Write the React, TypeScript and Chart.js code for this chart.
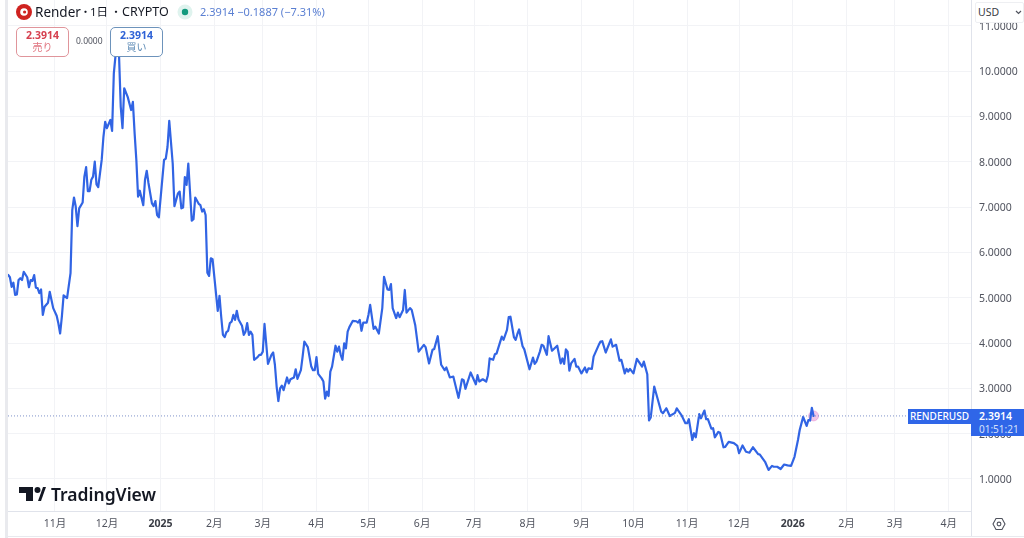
import { useEffect, useRef } from 'react';
import { Chart, registerables } from 'chart.js';

Chart.register(...registerables);

const FONT = '"Noto Sans", "Noto Sans CJK JP", sans-serif';

// days counted from 1 Nov 2024
const days = [
  -27, -26, -25, -24, -23, -22, -21, -20, -19, -18,
  -16, -15, -14, -13, -12, -11, -10, -9, -8, -7,
  -6, -4, -3, -1, 1, 2, 3, 4, 5, 7,
  9, 10, 11, 12, 13, 14, 16, 17, 18, 19,
  20, 21, 22, 23, 24, 25, 27, 28, 29, 30,
  32, 33, 34, 35, 37, 38, 39, 40, 42, 44,
  45, 46, 47, 48, 49, 51, 52, 53, 54, 56,
  57, 58, 59, 60, 63, 64, 65, 66, 68, 69,
  71, 72, 73, 74, 75, 76, 77, 79, 80, 81,
  83, 84, 85, 86, 87, 88, 89, 90, 91, 94,
  95, 96, 97, 98, 99, 100, 101, 102, 103, 104,
  105, 106, 108, 109, 110, 111, 112, 113, 114, 115,
  117, 118, 119, 120, 121, 123, 125, 126, 127, 128,
  129, 130, 131, 132, 134, 135, 136, 138, 139, 140,
  142, 143, 144, 146, 148, 149, 150, 151, 152, 154,
  155, 156, 157, 158, 159, 160, 162, 163, 164, 165,
  166, 167, 168, 169, 170, 172, 174, 175, 176, 177,
  178, 180, 181, 182, 184, 185, 187, 189, 190, 192,
  193, 194, 195, 197, 198, 199, 201, 202, 203, 205,
  206, 208, 210, 213, 214, 216, 218, 219, 221, 223,
  225, 226, 228, 230, 233, 235, 236, 237, 240, 243,
  244, 245, 247, 249, 250, 251, 253, 254, 255, 258,
  259, 261, 262, 263, 265, 266, 267, 268, 270, 271,
  274, 276, 277, 278, 280, 281, 282, 284, 285, 287,
  290, 292, 293, 294, 295, 296, 297, 298, 300, 301,
  302, 304, 306, 307, 308, 310, 311, 314, 315, 316,
  318, 321, 322, 324, 326, 327, 329, 330, 331, 332,
  334, 336, 339, 340, 342, 343, 344, 346, 350, 351,
  353, 355, 358, 359, 362, 364, 365, 366, 368, 369,
  370, 372, 373, 375, 376, 377, 379, 380, 381, 383,
  384, 386, 387, 389, 392, 394, 395, 397, 399, 401,
  403, 406, 407, 410, 412, 414, 415, 417, 419, 421,
  423, 425, 427, 429, 430, 432, 434, 435, 436, 437,
  438,
];

const closes = [
  5.5, 5.45, 5.24, 5.33, 5.06, 5.07, 5.39, 5.43, 5.39, 5.57,
  5.45, 5.23, 5.39, 5.37, 5.5, 5.22, 5.21, 5.1, 5.18, 4.62,
  4.8, 4.89, 5.13, 4.77, 4.6, 4.43, 4.21, 4.58, 5.05, 4.99,
  5.54, 6.93, 7.21, 7.01, 6.58, 6.97, 7.1, 7.67, 7.88, 7.35,
  7.35, 7.6, 7.67, 8.0, 7.5, 7.44, 8.04, 8.55, 8.88, 8.74,
  8.92, 8.68, 9.95, 10.35, 10.35, 9.21, 8.74, 9.62, 9.43, 9.14,
  9.32, 8.63, 8.04, 7.23, 7.36, 7.04, 7.6, 7.8, 7.53, 7.08,
  7.02, 7.13, 6.82, 6.77, 8.04, 8.07, 8.33, 8.9, 7.96, 7.02,
  7.3, 7.34, 6.97, 6.99, 7.66, 7.49, 7.96, 6.7, 6.73, 7.21,
  7.07, 7.04, 6.9, 6.95, 6.82, 5.55, 5.48, 5.87, 5.85, 4.71,
  5.04, 4.58, 4.18, 4.13, 4.24, 4.27, 4.44, 4.47, 4.62, 4.51,
  4.71, 4.52, 4.38, 4.18, 4.25, 4.44, 4.18, 4.25, 4.18, 3.63,
  3.69, 3.74, 3.74, 3.81, 4.42, 3.54, 3.74, 3.79, 3.52, 3.04,
  2.72, 3.0, 3.06, 2.96, 3.24, 3.11, 3.2, 3.24, 3.42, 3.21,
  3.4, 3.7, 4.03, 3.91, 3.48, 3.4, 3.4, 3.69, 3.32, 3.22,
  3.15, 2.77, 2.93, 2.83, 3.37, 3.48, 3.94, 3.81, 3.92, 3.74,
  3.63, 3.99, 3.88, 4.25, 4.35, 4.49, 4.48, 4.45, 4.51, 4.27,
  4.45, 4.45, 4.62, 4.84, 4.31, 4.36, 4.21, 4.77, 5.46, 5.18,
  5.17, 5.3, 4.77, 4.55, 4.67, 4.57, 4.73, 5.17, 4.67, 4.77,
  4.73, 4.4, 3.81, 3.96, 3.91, 3.55, 3.85, 3.87, 4.15, 3.52,
  3.4, 3.46, 3.24, 3.26, 2.79, 3.2, 3.18, 2.99, 3.35, 3.09,
  3.29, 3.15, 3.2, 3.15, 3.29, 3.66, 3.63, 3.75, 3.77, 4.14,
  4.07, 4.29, 4.57, 4.58, 4.13, 4.07, 4.2, 4.3, 3.93, 3.86,
  3.42, 3.68, 3.54, 3.59, 3.81, 3.96, 3.94, 3.74, 4.15, 3.83,
  3.94, 3.55, 3.66, 3.54, 3.86, 3.81, 3.39, 3.55, 3.65, 3.48,
  3.48, 3.33, 3.46, 3.35, 3.44, 3.43, 3.7, 3.96, 4.03, 4.04,
  3.79, 4.08, 3.92, 3.96, 3.61, 3.63, 3.33, 3.43, 3.37, 3.43,
  3.33, 3.65, 3.48, 3.59, 3.31, 2.29, 2.36, 3.04, 2.49, 2.45,
  2.56, 2.39, 2.46, 2.56, 2.39, 2.23, 2.23, 2.32, 1.86, 2.01,
  1.92, 2.43, 2.34, 2.51, 2.32, 2.32, 2.11, 2.12, 1.92, 2.04,
  2.02, 1.7, 1.71, 1.82, 1.79, 1.73, 1.57, 1.74, 1.6, 1.58,
  1.7, 1.55, 1.54, 1.38, 1.2, 1.29, 1.27, 1.27, 1.22, 1.32,
  1.3, 1.29, 1.49, 1.86, 2.08, 2.37, 2.17, 2.3, 2.29, 2.57,
  2.3914,
];

const monthDays = [0, 30, 61, 92, 120, 151, 181, 212, 242, 273, 304, 334, 365, 395, 426, 457, 485, 516];
const monthLabels = [
  '11月', '12月', '2025', '2月', '3月', '4月', '5月', '6月', '7月',
  '8月', '9月', '10月', '11月', '12月', '2026', '2月', '3月', '4月',
];
const priceTicks = [1, 2, 3, 4, 5, 6, 7, 8, 9, 10, 11];
const lastPrice = 2.3914;

const xMin = -27.1;
const xMax = 528.9;
const yMin = 0.294;
const yMax = 11.567;

function Label({ x, y, w, h, bg, color, size, weight, children, border, radius, align }: any) {
  return (
    <div
      style={{
        position: 'absolute',
        left: x,
        top: y,
        width: w,
        height: h,
        lineHeight: `${h}px`,
        background: bg,
        color,
        fontSize: size,
        fontWeight: weight,
        border,
        borderRadius: radius,
        textAlign: align ?? 'left',
        boxSizing: 'border-box',
        whiteSpace: 'nowrap',
      }}
    >
      {children}
    </div>
  );
}

export default function App() {
  const canvasRef = useRef<HTMLCanvasElement | null>(null);

  useEffect(() => {
    const canvas = canvasRef.current;
    if (!canvas) return;

    const chart = new Chart(canvas, {
      type: 'line',
      data: {
        datasets: [
          {
            data: [{ x: xMin, y: lastPrice }, { x: xMax, y: lastPrice }],
            borderColor: '#7f93c9',
            borderWidth: 1,
            borderDash: [1, 2],
            pointRadius: 0,
          },
          {
            data: days.map((d, i) => ({ x: d, y: closes[i] })),
            borderColor: '#3164e4',
            borderWidth: 2.2,
            borderJoinStyle: 'round',
            borderCapStyle: 'round',
            pointRadius: 0,
            tension: 0,
          },
          {
            data: [{ x: days[days.length - 1], y: lastPrice }],
            borderColor: 'transparent',
            pointBackgroundColor: 'rgba(226, 130, 205, 0.45)',
            pointBorderColor: 'rgba(226, 130, 205, 0.45)',
            pointRadius: 5,
            showLine: false,
          },
        ],
      },
      options: {
        animation: false,
        responsive: false,
        events: [],
        layout: { autoPadding: false, padding: { left: 8, right: 0, top: 0, bottom: 0 } },
        plugins: { legend: { display: false }, tooltip: { enabled: false } },
        scales: {
          x: {
            type: 'linear',
            min: xMin,
            max: xMax,
            afterBuildTicks: (scale) => {
              scale.ticks = monthDays.map((value) => ({ value }));
            },
            afterFit: (scale) => {
              scale.height = 27;
            },
            grid: { color: '#f2f3f6', drawTicks: false },
            border: { color: '#e0e3eb' },
            ticks: {
              autoSkip: false,
              maxRotation: 0,
              padding: 7,
              color: (ctx) => (ctx.index % 12 === 2 ? '#3a3d45' : '#50535e'),
              font: (ctx) => ({
                family: FONT,
                size: 10.5,
                weight: ctx.index % 12 === 2 ? 'bold' : 'normal',
              }),
              callback: (_value, index) => monthLabels[index],
            },
          },
          y: {
            type: 'linear',
            position: 'right',
            min: yMin,
            max: yMax,
            afterBuildTicks: (scale) => {
              scale.ticks = priceTicks.map((value) => ({ value }));
            },
            afterFit: (scale) => {
              scale.width = 53;
              scale.paddingTop = 0;
              scale.paddingBottom = 0;
            },
            grid: { color: '#f2f3f6', drawTicks: false },
            border: { color: '#e0e3eb' },
            ticks: {
              autoSkip: false,
              padding: 8,
              labelOffset: 1,
              color: '#50535e',
              font: { family: FONT, size: 10.5 },
              callback: (value) => Number(value).toFixed(4),
            },
          },
        },
      },
    });

    return () => chart.destroy();
  }, []);

  return (
    <div
      style={{
        position: 'absolute',
        left: 0,
        top: 0,
        width: 1024,
        height: 538,
        overflow: 'hidden',
        background: '#fff',
        fontFamily: FONT,
      }}
    >
      <canvas ref={canvasRef} width={1024} height={538} style={{ position: 'absolute', left: 0, top: 0 }} />

      <div style={{ position: 'absolute', left: 5, top: 0, width: 3, height: 538, background: '#e9eaee' }} />
      <div style={{ position: 'absolute', left: 971, top: 511, width: 1, height: 25, background: '#e0e3eb' }} />
      <div style={{ position: 'absolute', left: 8, top: 536, width: 1016, height: 1, background: '#e8e9ee' }} />

      <svg style={{ position: 'absolute', left: 15, top: 3 }} width={18} height={18} viewBox="0 0 18 18">
        <circle cx="9" cy="9" r="8" fill="#cf2320" />
        <circle cx="9" cy="9" r="3.8" fill="#fff" />
        <circle cx="9.6" cy="9" r="1.6" fill="#cf2320" />
      </svg>
      <Label x={35} y={3} h={18} size={13.5} color="#131722">Render</Label>
      <Label x={80} y={3} w={8} h={18} size={11} color="#131722" align="center">・</Label>
      <Label x={90} y={3} h={18} size={11.5} color="#131722">1日</Label>
      <Label x={110} y={3} w={12} h={18} size={11} color="#131722" align="center">・</Label>
      <Label x={122} y={3} h={18} size={12.5} color="#131722">CRYPTO</Label>
      <svg style={{ position: 'absolute', left: 177, top: 4 }} width={16} height={16} viewBox="0 0 16 16">
        <circle cx="8" cy="8" r="7.5" fill="#dff3ee" />
        <circle cx="8" cy="8" r="3.2" fill="#119a7d" />
      </svg>
      <Label x={200} y={3} h={18} size={11} color="#5a7fd2">2.3914  −0.1887 (−7.31%)</Label>

      <Label x={16} y={27} w={53} h={30} bg="#fff" border="1px solid #e0959b" radius={5} />
      <Label x={16} y={28} w={53} h={15} size={10.5} weight={700} color="#d6404f" align="center">2.3914</Label>
      <Label x={16} y={40} w={53} h={15} size={10} color="#e0747f" align="center">売り</Label>
      <Label x={76} y={33} h={16} size={8.5} color="#50535e">0.0000</Label>
      <Label x={110} y={27} w={53} h={30} bg="#fff" border="1px solid #6d93bb" radius={5} />
      <Label x={110} y={28} w={53} h={15} size={10.5} weight={700} color="#2f62d6" align="center">2.3914</Label>
      <Label x={110} y={40} w={53} h={15} size={10} color="#5c8ab5" align="center">買い</Label>

      <svg style={{ position: 'absolute', left: 19, top: 487 }} width={28} height={15} viewBox="0 0 28 15">
        <path d="M0 0h14v14h-7V6H0z" fill="#131722" />
        <circle cx="18.5" cy="3" r="3" fill="#131722" />
        <path d="M19 14l5-14h3l-5 14z" fill="#131722" />
      </svg>
      <Label x={51} y={483} h={22} size={17.5} weight={600} color="#131722">TradingView</Label>

      <Label x={908} y={409} w={63} h={15} bg="#2f66e8" color="#fff" size={10} weight={500} align="center">RENDERUSD</Label>
      <Label x={971} y={409} w={53} h={27} bg="#2f66e8" />
      <Label x={979} y={409} h={15} color="#fff" size={10.5} weight={600}>2.3914</Label>
      <Label x={979} y={422} h={14} color="#d5e1fb" size={10}>01:51:21</Label>

      <Label x={975} y={2} w={49} h={21} bg="#fff" border="1px solid #eeeff2" radius={2} />
      <Label x={978} y={3} h={19} size={10.5} color="#3a3d45">USD</Label>
      <svg style={{ position: 'absolute', left: 1015, top: 10 }} width={7} height={5} viewBox="0 0 7 5">
        <path d="M1 1l2.5 2.5L6 1" fill="none" stroke="#50535e" strokeWidth="1.2" />
      </svg>

      <svg style={{ position: 'absolute', left: 992, top: 517 }} width={14} height={14} viewBox="0 0 14 14">
        <path d="M4 1.5h6L13 7l-3 5.5H4L1 7z" fill="none" stroke="#50535e" strokeWidth="1.1" />
        <circle cx="7" cy="7" r="1.9" fill="none" stroke="#50535e" strokeWidth="1.1" />
      </svg>
    </div>
  );
}
